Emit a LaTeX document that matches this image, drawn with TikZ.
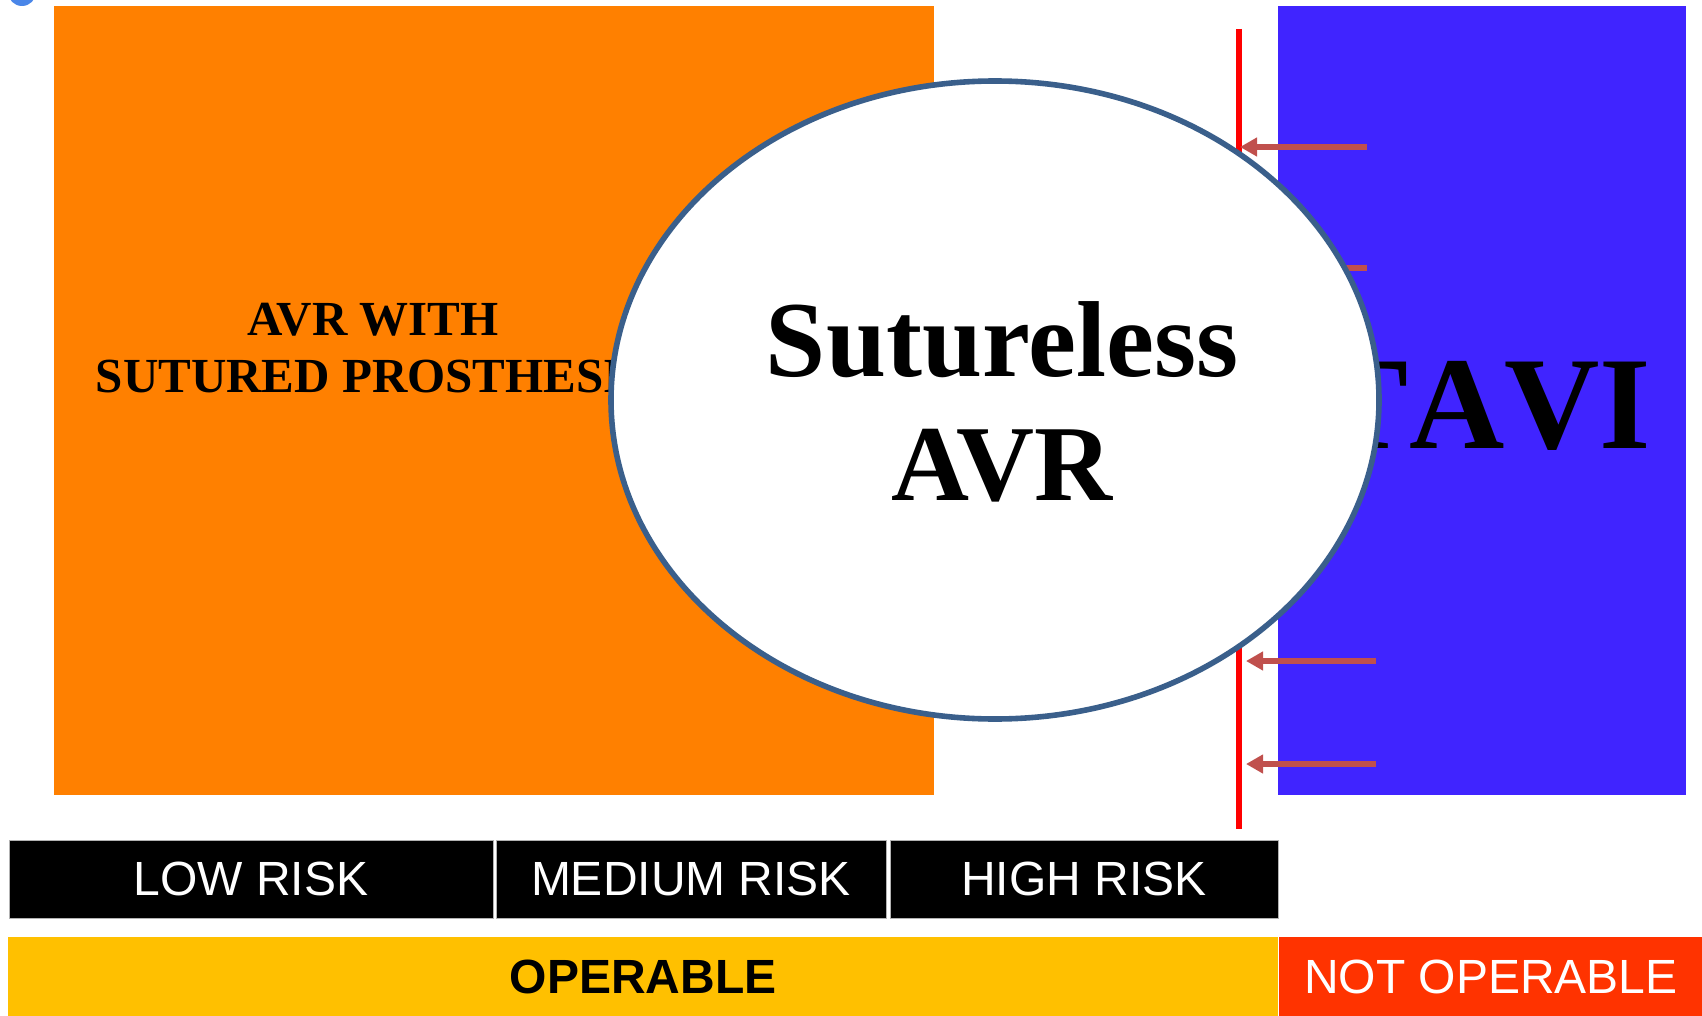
\documentclass[tikz,border=0pt]{standalone}
\usepackage{fontspec}
\setmainfont{Liberation Serif}
\setsansfont{Liberation Sans}
\usetikzlibrary{arrows.meta,positioning,shapes.geometric}

\definecolor{avrorange}{HTML}{FF8000}
\definecolor{taviblue}{HTML}{4024FF}
\definecolor{ringblue}{HTML}{3A5F8B}
\definecolor{limitred}{HTML}{FF0000}
\definecolor{pushred}{HTML}{C0504D}
\definecolor{operable}{HTML}{FFC000}
\definecolor{notoperable}{HTML}{FF3300}
\definecolor{dotblue}{HTML}{4A86E8}

\begin{document}
\begin{tikzpicture}[x=0.5pt,y=-0.5pt,
	panel/.style={rectangle,inner sep=0pt,minimum height=394.5pt},
	risk/.style={rectangle,fill=black,draw=gray!60,line width=0.5pt,text=white,inner sep=0pt,
		minimum height=39pt,font=\sffamily\fontsize{24}{24}\selectfont},
	status/.style={rectangle,inner sep=0pt,minimum height=39.5pt,font=\sffamily\fontsize{24}{24}\selectfont},
	pusharrow/.style={draw=pushred,line width=3pt,-{Triangle[length=8.5pt,width=9pt]}},
	limitline/.style={draw=limitred,line width=2.6pt}]

			      \useasboundingbox (0,0) rectangle (1702,1016);
			      \fill[dotblue] (22,-8) circle (14);

			      \node[panel, fill=avrorange, minimum width=440pt] (sutured) at (494,400.5) {};
			      \node[font=\bfseries\fontsize{24.5}{28.5}\selectfont, align=center] (suturedtext) at (373,348) {AVR WITH\\SUTURED PROSTHESIS};

			      \node[panel, fill=taviblue, minimum width=204pt] (tavi) at (1482,400.5) {};
			      \node[font=\bfseries\fontsize{66}{66}\selectfont\addfontfeature{Kerning=Off}, anchor=base] (tavitext) at (1486,448) {TAVI};

			      \coordinate (limtop) at (1239,29);
			      \coordinate (limbot) at (1239,829);
			      \draw[limitline] (limtop) -- (limbot);

			      \foreach \y/\xs/\xt [count=\i] in {147/1367/1240, 268/1367/1240, 661/1376/1246, 764/1376/1246} {
			      	\coordinate (from\i) at (\xs,\y);
			      	\coordinate (to\i) at (\xt,\y);
			      	\draw[pusharrow] (from\i) -- (to\i);
			      }

			      \node[ellipse, draw=ringblue, line width=2.8pt, fill=white, inner sep=0pt,
			      	minimum width=384pt, minimum height=319pt] (ring) at (995,400) {};
			      \node[align=center, font=\bfseries\fontsize{54}{62}\selectfont] (ringtext) at (1002,402) {Sutureless\\AVR};

			      \node[risk, minimum width=242pt] (low) at (251,879) {LOW RISK};
			      \node[risk, minimum width=195pt, right=1pt of low] (medium) {MEDIUM RISK};
			      \node[risk, minimum width=194pt, right=1.5pt of medium] (high) {HIGH RISK};

			      \node[status, fill=operable, minimum width=635pt, font=\sffamily\bfseries\fontsize{24}{24}\selectfont] (op) at (643,976.5) {OPERABLE};
			      \node[status, fill=notoperable, text=white, minimum width=212pt, right=0pt of op] (notop) {NOT OPERABLE};

		      \end{tikzpicture}
\end{document}
